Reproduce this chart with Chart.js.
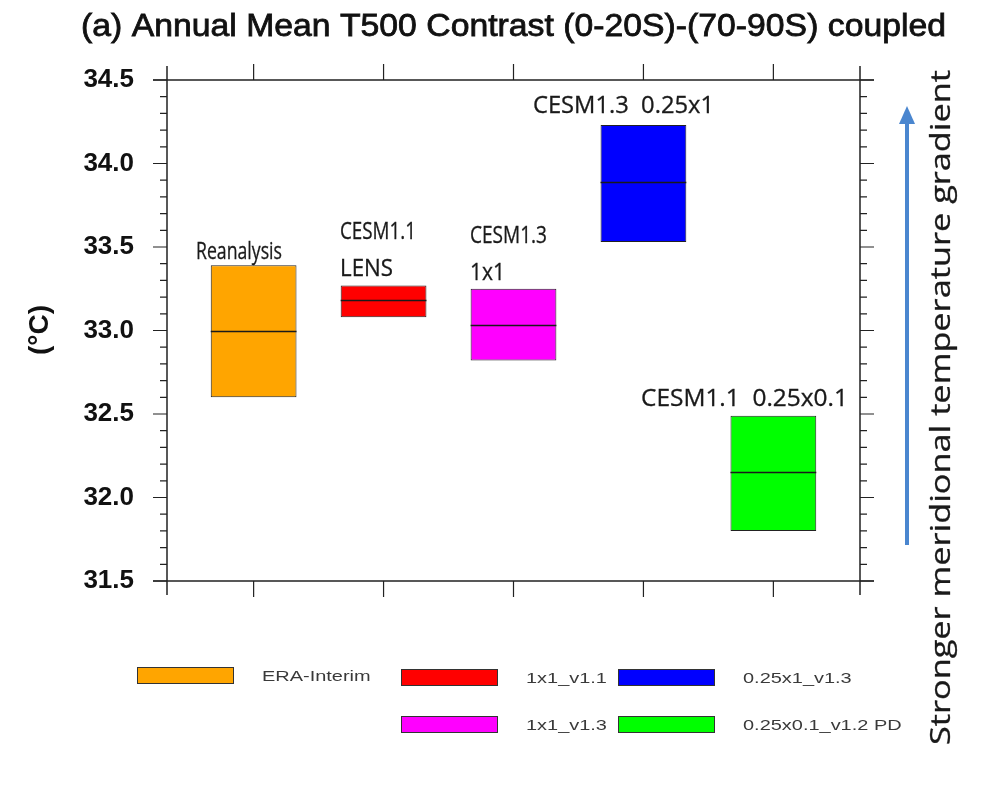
<!DOCTYPE html>
<html>
<head>
<meta charset="utf-8">
<script src="https://cdn.jsdelivr.net/npm/chart.js@4.4.0/dist/chart.umd.min.js"></script>
<style>
  html, body { margin: 0; padding: 0; background: #fff; }
  #wrap { width: 986px; height: 785px; }
</style>
</head>
<body>
<div id="wrap"><canvas id="chart" width="986" height="785"></canvas></div>
<script>
// T500 contrast ranges per experiment (degC)
const categories = ['Reanalysis', 'CESM1.1 LENS', 'CESM1.3 1x1', 'CESM1.3 0.25x1', 'CESM1.1 0.25x0.1'];
const xPositions = [1, 2, 3, 4, 5];
const lowValues = [32.60, 33.08, 32.82, 33.53, 31.80];
const highValues = [33.39, 33.27, 33.25, 34.23, 32.49];
const medianValues = [33.00, 33.18, 33.03, 33.89, 32.15];
const boxColors = ['#ffa500', '#ff0000', '#ff00ff', '#0000ff', '#00ff00'];
const legendLabels = ['ERA-Interim', '1x1_v1.1', '1x1_v1.3', '0.25x1_v1.3', '0.25x0.1_v1.2 PD'];
const yMin = 31.5, yMax = 34.5, yStep = 0.5, yMinorStep = 0.1;

const titleText = '(a) Annual Mean T500 Contrast (0-20S)-(70-90S) coupled';
const sideText = 'Stronger meridional temperature gradient';

function fitText(ctx, text, left, baseline, width, weight) {
    const w = ctx.measureText(text).width;
    ctx.save();
    ctx.translate(left, baseline);
    ctx.scale(width / w, 1);
    ctx.textAlign = 'left';
    ctx.textBaseline = 'alphabetic';
    ctx.fillText(text, 0, 0);
    if (weight) {
        ctx.strokeStyle = ctx.fillStyle;
        ctx.lineWidth = weight;
        ctx.strokeText(text, 0, 0);
    }
    ctx.restore();
}

const decorations = {
    id: 'decorations',
    beforeDraw(chart) {
        const ctx = chart.ctx;
        ctx.save();
        ctx.fillStyle = '#fff';
        ctx.fillRect(0, 0, chart.width, chart.height);
        ctx.restore();
    },
    afterDatasetsDraw(chart) {
        // median line in each box
        const ctx = chart.ctx;
        const y = chart.scales.y;
        const meta = chart.getDatasetMeta(0);
        ctx.save();
        ctx.strokeStyle = '#1a1a1a';
        ctx.lineWidth = 1.6;
        meta.data.forEach((bar, i) => {
            const py = Math.round(y.getPixelForValue(medianValues[i])) + 0.5;
            ctx.beginPath();
            ctx.moveTo(bar.x - bar.width / 2, py);
            ctx.lineTo(bar.x + bar.width / 2, py);
            ctx.stroke();
        });
        ctx.restore();
    },
    afterDraw(chart) {
        const ctx = chart.ctx;
        const { left, right, top, bottom } = chart.chartArea;
        const x = chart.scales.x, y = chart.scales.y;
        const major = 14, minor = 7;
        ctx.save();

        // frame, lines run past the corners
        ctx.strokeStyle = '#222';
        ctx.lineWidth = 1.5;
        ctx.beginPath();
        ctx.moveTo(left - major, top); ctx.lineTo(right + major, top);
        ctx.moveTo(left - major, bottom); ctx.lineTo(right + major, bottom);
        ctx.moveTo(left, top - major); ctx.lineTo(left, bottom + major);
        ctx.moveTo(right, top - major); ctx.lineTo(right, bottom + major);
        ctx.stroke();

        // y ticks on both sides, pointing out
        ctx.lineWidth = 1.2;
        ctx.beginPath();
        const n = Math.round((yMax - yMin) / yMinorStep);
        for (let k = 0; k <= n; k++) {
            const v = yMin + k * yMinorStep;
            const len = (k % 5 === 0) ? major : minor;
            const py = y.getPixelForValue(v);
            ctx.moveTo(left, py); ctx.lineTo(left - len, py);
            ctx.moveTo(right, py); ctx.lineTo(right + len, py);
        }
        // x ticks top and bottom
        xPositions.forEach(v => {
            const px = x.getPixelForValue(v);
            ctx.moveTo(px, top); ctx.lineTo(px, top - major - 2);
            ctx.moveTo(px, bottom); ctx.lineTo(px, bottom + major + 2);
        });
        ctx.stroke();

        // title
        ctx.fillStyle = '#111';
        ctx.font = '32px "Liberation Sans", Arial, sans-serif';
        fitText(ctx, titleText, 81, 36, 865, 0.8);

        // y axis title
        ctx.save();
        ctx.translate(48, 330);
        ctx.rotate(-Math.PI / 2);
        ctx.font = 'bold 28px "Liberation Sans", Arial, sans-serif';
        ctx.textAlign = 'center';
        ctx.textBaseline = 'alphabetic';
        ctx.fillText('(\u00B0C)', 0, 0);
        ctx.restore();

        // labels above the boxes
        ctx.fillStyle = '#1a1a1a';
        ctx.font = '23px "Open Sans", sans-serif';
        const notes = [
            ['Reanalysis', 196, 259, 86],
            ['CESM1.1', 340, 239, 76],
            ['LENS', 340, 276, 53],
            ['CESM1.3', 470, 243, 77],
            ['1x1', 470, 280, 35],
            ['CESM1.3  0.25x1', 533, 113, 181],
            ['CESM1.1  0.25x0.1', 641, 406, 207]
        ];
        notes.forEach(([t, lx, by, w]) => fitText(ctx, t, lx, by, w, 0.3));

        // legend
        const slots = [[137, 675], [401, 677], [401, 724], [618, 677], [618, 724]];
        ctx.font = '15px "Liberation Sans", Arial, sans-serif';
        legendLabels.forEach((lab, i) => {
            const [bx, cy] = slots[i];
            ctx.fillStyle = boxColors[i];
            ctx.fillRect(bx, cy - 8, 96, 16);
            ctx.strokeStyle = '#333';
            ctx.lineWidth = 1;
            ctx.strokeRect(bx + 0.5, cy - 7.5, 96, 16);
            ctx.fillStyle = '#3a3a3a';
            const w = ctx.measureText(lab).width * 1.33;
            fitText(ctx, lab, bx + 125, cy + 6, w);
        });

        // arrow on the right
        ctx.strokeStyle = '#4a86cf';
        ctx.fillStyle = '#4a86cf';
        ctx.lineWidth = 4;
        ctx.beginPath();
        ctx.moveTo(907, 545); ctx.lineTo(907, 122);
        ctx.stroke();
        ctx.beginPath();
        ctx.moveTo(907, 106); ctx.lineTo(899, 124); ctx.lineTo(915, 124);
        ctx.closePath();
        ctx.fill();

        // rotated side note
        ctx.save();
        ctx.translate(950, 745);
        ctx.rotate(-Math.PI / 2);
        ctx.fillStyle = '#1a1a1a';
        ctx.font = '27px "Open Sans", sans-serif';
        fitText(ctx, sideText, 0, 0, 675, 0.3);
        ctx.restore();

        ctx.restore();
    }
};

new Chart(document.getElementById('chart'), {
    type: 'bar',
    data: {
        labels: categories,
        datasets: [{
            data: xPositions.map((v, i) => ({ x: v, y: [lowValues[i], highValues[i]] })),
            backgroundColor: boxColors,
            borderColor: '#222',
            borderWidth: 1,
            borderSkipped: false,
            barPercentage: 0.66,
            categoryPercentage: 1
        }]
    },
    options: {
        responsive: false,
        animation: false,
        devicePixelRatio: 1,
        layout: { padding: { top: 80, right: 126, left: 0, bottom: 0 } },
        plugins: { legend: { display: false }, tooltip: { enabled: false } },
        scales: {
            x: {
                type: 'linear',
                offset: false,
                min: 1 / 3,
                max: 17 / 3,
                afterBuildTicks: s => { s.ticks = xPositions.map(v => ({ value: v })); },
                afterFit: s => { s.height = 204; },
                ticks: { display: false },
                grid: { display: false, offset: false },
                border: { display: false }
            },
            y: {
                min: yMin,
                max: yMax,
                afterFit: s => { s.width = 167; },
                ticks: {
                    stepSize: yStep,
                    padding: 33,
                    color: '#111',
                    font: { family: '"Liberation Sans", Arial, sans-serif', size: 26, weight: 'bold' },
                    callback: v => v.toFixed(1)
                },
                grid: { display: false, drawTicks: false },
                border: { display: false }
            }
        }
    },
    plugins: [decorations]
});
</script>
</body>
</html>
